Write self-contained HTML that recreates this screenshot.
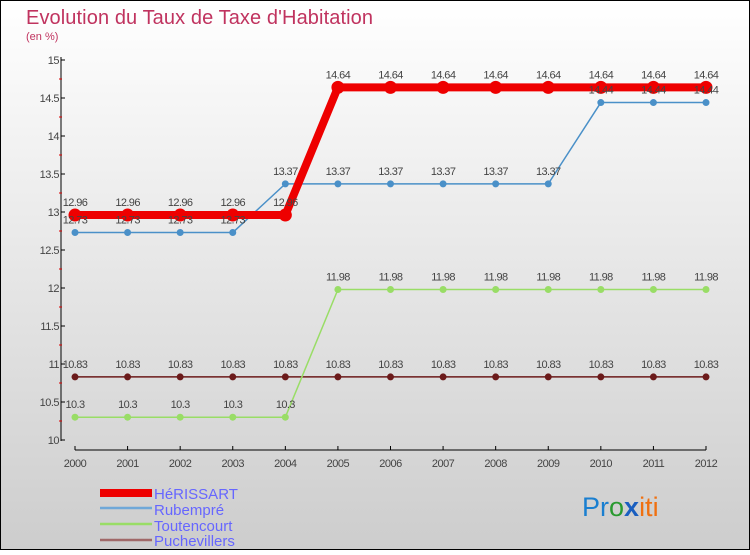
<!DOCTYPE html>
<html><head><meta charset="utf-8"><style>
html,body{margin:0;padding:0}
body{width:750px;height:550px;overflow:hidden;font-family:"Liberation Sans",sans-serif}
</style></head><body>
<svg id="c" width="750" height="550" xmlns="http://www.w3.org/2000/svg">
<defs><linearGradient id="bg" x1="0" y1="0" x2="0" y2="1"><stop offset="0" stop-color="#ffffff"/><stop offset="1" stop-color="#cdcdcd"/></linearGradient></defs>
<rect x="0.5" y="0.5" width="749" height="549" fill="url(#bg)" stroke="#000"/>
<text x="26" y="24" font-size="20" fill="#c0335f" textLength="347">Evolution du Taux de Taxe d'Habitation</text>
<text x="26" y="40" font-size="11" fill="#c0335f">(en %)</text>
<g id="axes"></g><g id="series"></g>
<g>
<rect x="100" y="489" width="52" height="8" fill="#e00"/>
<text x="154" y="499" font-size="15" fill="#6666ff">HéRISSART</text>
<line x1="100" y1="508" x2="152" y2="508" stroke="#6fa8d8" stroke-width="2.5"/>
<text x="154" y="515" font-size="15" fill="#6666ff">Rubempré</text>
<line x1="100" y1="524" x2="152" y2="524" stroke="#99dd66" stroke-width="2.5"/>
<text x="154" y="531" font-size="15" fill="#6666ff">Toutencourt</text>
<line x1="100" y1="540" x2="152" y2="540" stroke="#a06868" stroke-width="2.5"/>
<text x="154" y="546" font-size="15" fill="#6666ff">Puchevillers</text>
</g>
<text x="582" y="516" font-size="27"><tspan fill="#1a7fd0">Pr</tspan><tspan fill="#2a9a30">o</tspan><tspan fill="#1a5fc0" font-weight="bold">x</tspan><tspan fill="#f07010">iti</tspan></text>
</svg>
<script>
const years=[2000,2001,2002,2003,2004,2005,2006,2007,2008,2009,2010,2011,2012];
const yTicks=[10,10.5,11,11.5,12,12.5,13,13.5,14,14.5,15];
const herissart=[12.96,12.96,12.96,12.96,12.96,14.64,14.64,14.64,14.64,14.64,14.64,14.64,14.64];
const rubempre=[12.73,12.73,12.73,12.73,13.37,13.37,13.37,13.37,13.37,13.37,14.44,14.44,14.44];
const toutencourt=[10.3,10.3,10.3,10.3,10.3,11.98,11.98,11.98,11.98,11.98,11.98,11.98,11.98];
const puchevillers=[10.83,10.83,10.83,10.83,10.83,10.83,10.83,10.83,10.83,10.83,10.83,10.83,10.83];
const NS="http://www.w3.org/2000/svg";
const X=i=>75+i*(706-75)/(years.length-1);
const Y=v=>440-(v-10)*76;
function mk(t,a,p){const e=document.createElementNS(NS,t);for(const k in a)e.setAttribute(k,a[k]);p.appendChild(e);return e;}
const ax=document.getElementById('axes');
let l=mk('line',{x1:61,y1:57,x2:61,y2:441,stroke:'#000'},ax);


l=mk('line',{x1:75,y1:450,x2:706,y2:450,stroke:'#000'},ax);


yTicks.forEach((v,i)=>{
 mk('line',{x1:61,y1:Y(v),x2:65,y2:Y(v),stroke:'#000'},ax);
 if(i<yTicks.length-1)mk('line',{x1:59,y1:Y(v+0.25),x2:62,y2:Y(v+0.25),stroke:'#d00'},ax);
 const t=mk('text',{x:59,y:Y(v)+4,'font-size':11,'text-anchor':'end',fill:'#444','letter-spacing':'-0.5'},ax);
 t.textContent=String(v);
 
 
});
years.forEach((y,i)=>{
 mk('line',{x1:X(i),y1:446,x2:X(i),y2:450,stroke:'#000'},ax);
 const t=mk('text',{x:X(i),y:467,'font-size':11,'text-anchor':'middle',fill:'#444','letter-spacing':'-0.5'},ax);
 t.textContent=String(y);
 
 
});
const sg=document.getElementById('series');
function series(name,data,color,w,r){
 const g=mk('g',{},sg);
 
 
 const pl=mk('polyline',{points:data.map((v,i)=>X(i)+','+Y(v)).join(' '),fill:'none',stroke:color,'stroke-width':w,'stroke-linejoin':'round'},g);
 
 
 data.forEach((v,i)=>{
  const c=mk('circle',{cx:X(i),cy:Y(v),r:r,fill:color},g);
  
  
 });
 return g;
}
function labels(data){
 data.forEach((v,i)=>{
  const t=mk('text',{x:X(i),y:Y(v)-9,'font-size':11,'text-anchor':'middle',fill:'#444','letter-spacing':'-0.6'},sg);
  t.textContent=String(v);
  
  
 });
}
series('puchevillers',puchevillers,'#6b1a1a',1.5,3.5);
series('toutencourt',toutencourt,'#99dd66',1.5,3.5);
series('rubempre',rubempre,'#4a90c8',1.5,3.5);
series('herissart',herissart,'#ee0000',8,6.5);
labels(puchevillers);labels(toutencourt);labels(rubempre);labels(herissart);
</script>
</body></html>
